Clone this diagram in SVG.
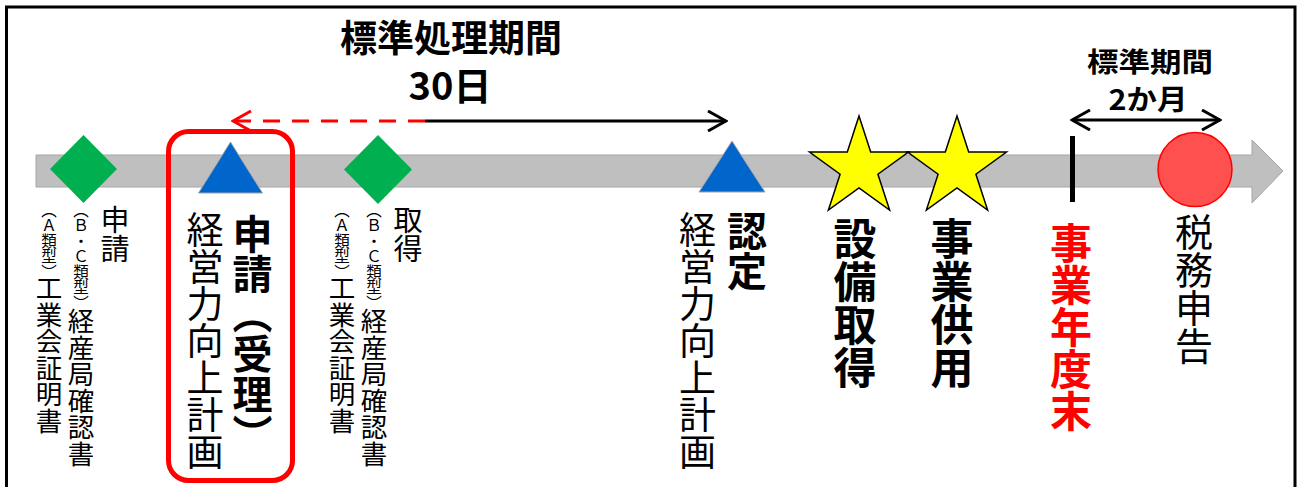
<svg xmlns="http://www.w3.org/2000/svg" width="1303" height="487" viewBox="0 0 1303 487">
<style>
text { font-family: "Noto Sans CJK JP", "Noto Sans CJK SC", sans-serif; fill: #000; }
.v { writing-mode: vertical-rl; text-spacing-trim: space-all; }
.m { font-size: 26.5px; }
.s { font-size: 15.5px; }
.lab { font-size: 29px; }
.plan { font-size: 37px; }
.key { font-size: 40px; font-weight: bold; }
.big { font-size: 43px; font-weight: bold; }
.hd { font-weight: bold; text-anchor: middle; }
.dia { fill: #00B050; }
.tri { fill: #0066CC; stroke: #A6A6A6; stroke-width: 1; }
.star { fill: #FFFF00; stroke: #000; stroke-width: 1.5; stroke-linejoin: miter; }
</style>
<defs>
<marker id="chevK" viewBox="0 0 22 22" refX="20" refY="11" markerWidth="22" markerHeight="22" markerUnits="userSpaceOnUse" orient="auto-start-reverse">
<path d="M2,1 L20,11 L2,21" fill="none" stroke="#000" stroke-width="3"/>
</marker>
<marker id="chevR" viewBox="0 0 22 22" refX="20" refY="11" markerWidth="22" markerHeight="22" markerUnits="userSpaceOnUse" orient="auto-start-reverse">
<path d="M2,1 L20,11 L2,21" fill="none" stroke="#FF0000" stroke-width="3"/>
</marker>
</defs>
<rect width="1303" height="487" fill="#fff"/>
<path d="M6.5,500 V7 H1295 V500" fill="none" stroke="#000" stroke-width="3"/>

<g id="timeline">
<path d="M36,155 H1252 V140 L1283,171 L1252,203 V187 H36 Z" fill="#BFBFBF" stroke="#A6A6A6" stroke-width="1"/>
</g>

<g id="connectors">
<line x1="425" y1="121" x2="233" y2="121" stroke="#FF0000" stroke-width="3" stroke-dasharray="17 12" marker-end="url(#chevR)"/>
<line x1="425" y1="121" x2="726" y2="121" stroke="#000" stroke-width="3" marker-end="url(#chevK)"/>
<line x1="1072" y1="120" x2="1220" y2="120" stroke="#000" stroke-width="3" marker-start="url(#chevK)" marker-end="url(#chevK)"/>
</g>

<g id="title-main">
<text class="hd" x="451" y="52" font-size="37">標準処理期間</text>
<text class="hd" x="450" y="100" font-size="38">30日</text>
</g>

<g id="title-right">
<text class="hd" x="1150" y="72" font-size="27" textLength="126" lengthAdjust="spacingAndGlyphs">標準期間</text>
<text class="hd" x="1148" y="110" font-size="28" textLength="79" lengthAdjust="spacingAndGlyphs">2か月</text>
</g>

<g id="node-apply-cert">
<path class="dia" d="M83.5,135 L117,169 L83.5,203 L50,169 Z"/>
<text class="v s" x="49" y="202">（Ａ類型）</text>
<text class="v m" x="49" y="275">工業会証明書</text>
<text class="v s" x="81" y="202">（Ｂ・Ｃ類型）</text>
<text class="v m" x="81" y="308">経産局確認書</text>
<text class="v lab" x="115" y="205">申請</text>
</g>

<g id="node-plan-apply">
<rect x="168.5" y="131.5" width="124" height="349" rx="20" fill="none" stroke="#FF0000" stroke-width="5"/>
<path class="tri" d="M230.5,142 L262.5,193 L198.5,193 Z"/>
<text class="v plan" x="205" y="211">経営力向上計画</text>
<text class="v key" x="252.5" y="214">申請（受理）</text>
</g>

<g id="node-acquire-cert">
<path class="dia" d="M378,135 L412,169.5 L378,204 L344,169.5 Z"/>
<text class="v s" x="342" y="202">（Ａ類型）</text>
<text class="v m" x="342" y="275">工業会証明書</text>
<text class="v s" x="374" y="202">（Ｂ・Ｃ類型）</text>
<text class="v m" x="374" y="308">経産局確認書</text>
<text class="v lab" x="408" y="205">取得</text>
</g>

<g id="node-plan-approve">
<path class="tri" d="M732,141 L765,192 L699,192 Z"/>
<text class="v plan" x="697.5" y="211">経営力向上計画</text>
<text class="v key" x="747" y="211">認定</text>
</g>

<g id="node-equipment">
<path class="star" d="M859,116 L870.7,152 L908.5,152 L877.9,174.2 L889.6,210.1 L859,188 L828.4,210.1 L840.1,174.2 L809.5,152 L847.3,152 Z"/>
<text class="v big" x="855" y="217.5">設備取得</text>
</g>

<g id="node-use">
<path class="star" d="M957,116 L968.7,152 L1006.5,152 L975.9,174.2 L987.6,210.1 L957,188 L926.4,210.1 L938.1,174.2 L907.5,152 L945.3,152 Z"/>
<text class="v big" x="952" y="217.5">事業供用</text>
</g>

<g id="node-fiscal-end">
<line x1="1072.5" y1="136" x2="1072.5" y2="202" stroke="#000" stroke-width="5"/>
<text class="v" x="1071" y="222.5" font-size="42" font-weight="bold" style="fill:#FF0000">事業年度末</text>
</g>

<g id="node-tax">
<circle cx="1195" cy="169.5" r="37" fill="#FF5050" stroke="#FF0000" stroke-width="1.5"/>
<text class="v" x="1194" y="213" font-size="38">税務申告</text>
</g>
</svg>
